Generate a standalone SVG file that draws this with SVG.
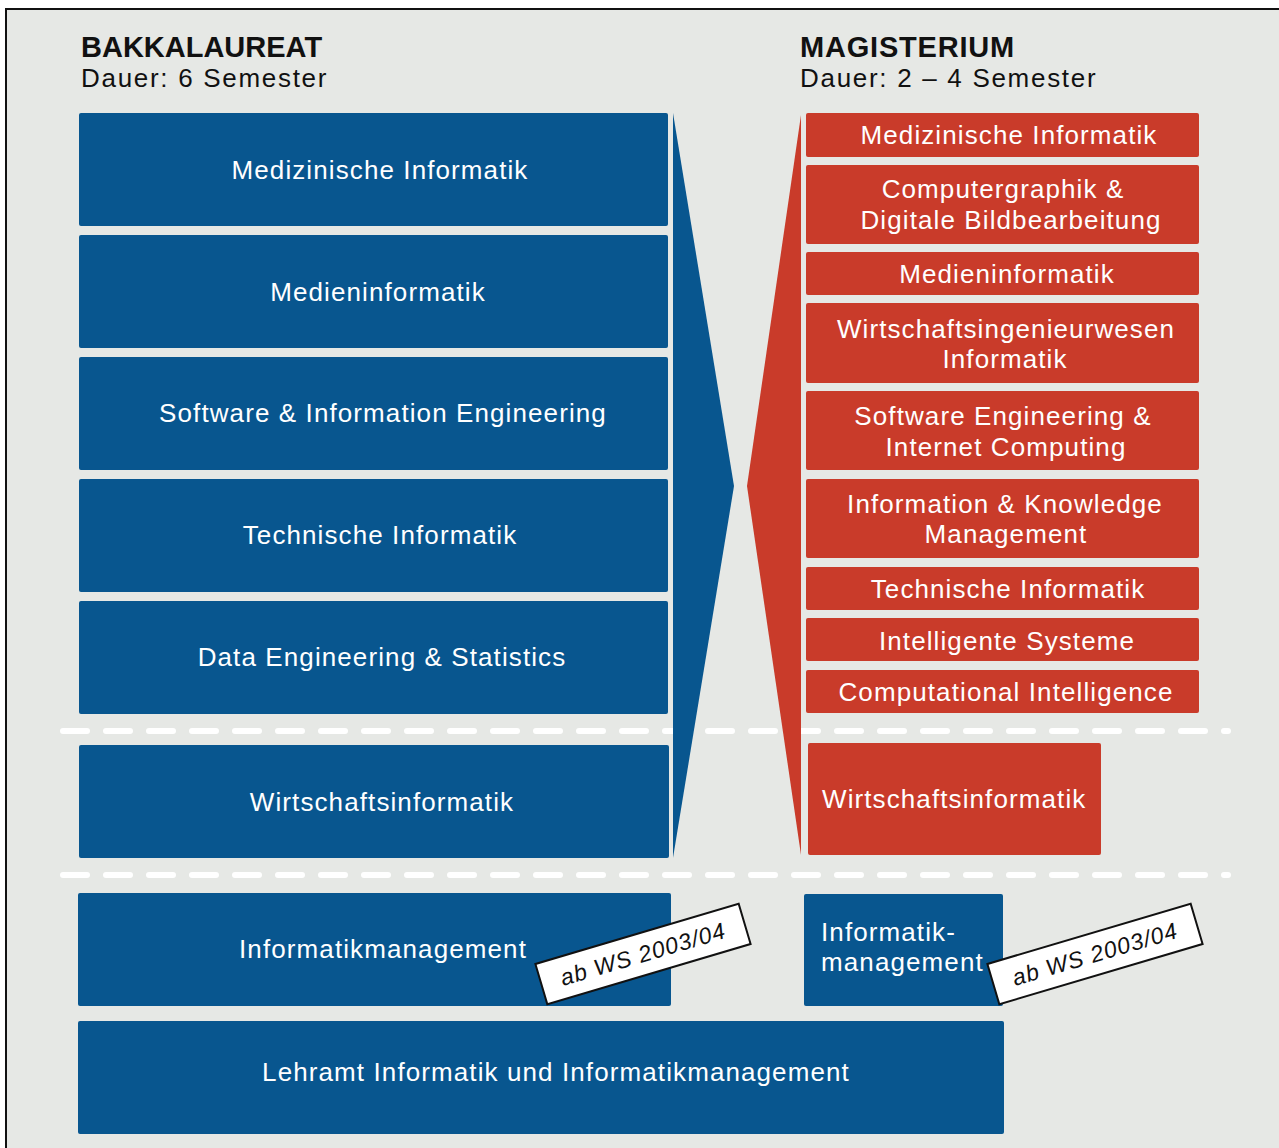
<svg xmlns="http://www.w3.org/2000/svg" width="1279" height="1148" viewBox="0 0 1279 1148">
<style>
.b{fill:#08568f}
.r{fill:#c93b2a}
.t{font-family:"Liberation Sans",Arial,sans-serif;font-size:26px;letter-spacing:1.1px;fill:#fff;text-anchor:middle}
.tl{font-family:"Liberation Sans",Arial,sans-serif;font-size:26px;letter-spacing:1.1px;fill:#fff}
.h{font-family:"Liberation Sans",Arial,sans-serif;font-size:29px;font-weight:bold;fill:#111}
.s{font-family:"Liberation Sans",Arial,sans-serif;font-size:26px;letter-spacing:1.7px;fill:#111}
.tag{fill:#fff;stroke:#111;stroke-width:2}
.tt{font-family:"Liberation Sans",Arial,sans-serif;font-size:23px;font-style:italic;letter-spacing:1px;fill:#111;text-anchor:middle}
.d{stroke:#fff;stroke-width:6;stroke-linecap:round;stroke-dasharray:24 19;fill:none}
</style>
<rect x="6" y="9" width="1300" height="1170" fill="#e6e8e5" stroke="#111" stroke-width="2"/>
<text class="h" x="81" y="57">BAKKALAUREAT</text>
<text class="s" x="81" y="87">Dauer: 6 Semester</text>
<text class="h" x="800" y="57" style="letter-spacing:0.8px">MAGISTERIUM</text>
<text class="s" x="800" y="87">Dauer: 2 – 4 Semester</text>

<g id="connectors">
<line class="d" x1="63" y1="731" x2="1228" y2="731"/>
<line class="d" x1="63" y1="875" x2="1228" y2="875"/>
<polygon class="b" points="673,113 734,486 673,858"/>
<polygon class="r" points="801,115 747,486 801,855"/>
</g>

<g id="b1"><rect class="b" x="79" y="113" width="589" height="113" rx="2"/><text class="t" x="380" y="179">Medizinische Informatik</text></g>
<g id="b2"><rect class="b" x="79" y="235" width="589" height="113" rx="2"/><text class="t" x="378" y="301">Medieninformatik</text></g>
<g id="b3"><rect class="b" x="79" y="357" width="589" height="113" rx="2"/><text class="t" x="383" y="422">Software &amp; Information Engineering</text></g>
<g id="b4"><rect class="b" x="79" y="479" width="589" height="113" rx="2"/><text class="t" x="380" y="544">Technische Informatik</text></g>
<g id="b5"><rect class="b" x="79" y="601" width="589" height="113" rx="2"/><text class="t" x="382" y="666">Data Engineering &amp; Statistics</text></g>
<g id="b6"><rect class="b" x="79" y="745" width="590" height="113" rx="2"/><text class="t" x="382" y="811">Wirtschaftsinformatik</text></g>
<g id="b7"><rect class="b" x="78" y="893" width="593" height="113" rx="2"/><text class="t" x="383" y="958">Informatikmanagement</text></g>
<g id="b8"><rect class="b" x="78" y="1021" width="926" height="113" rx="2"/><text class="t" x="556" y="1081">Lehramt Informatik und Informatikmanagement</text></g>

<g id="m1"><rect class="r" x="806" y="113" width="393" height="44" rx="2"/><text class="t" x="1009" y="144">Medizinische Informatik</text></g>
<g id="m2"><rect class="r" x="806" y="165" width="393" height="79" rx="2"/><text class="t" x="1003" y="198">Computergraphik &amp;</text><text class="t" x="1011" y="229">Digitale Bildbearbeitung</text></g>
<g id="m3"><rect class="r" x="806" y="252" width="393" height="43" rx="2"/><text class="t" x="1007" y="283">Medieninformatik</text></g>
<g id="m4"><rect class="r" x="806" y="303" width="393" height="80" rx="2"/><text class="t" x="1006" y="338">Wirtschaftsingenieurwesen</text><text class="t" x="1005" y="368">Informatik</text></g>
<g id="m5"><rect class="r" x="806" y="391" width="393" height="79" rx="2"/><text class="t" x="1003" y="425">Software Engineering &amp;</text><text class="t" x="1006" y="456">Internet Computing</text></g>
<g id="m6"><rect class="r" x="806" y="479" width="393" height="79" rx="2"/><text class="t" x="1005" y="513">Information &amp; Knowledge</text><text class="t" x="1006" y="543">Management</text></g>
<g id="m7"><rect class="r" x="806" y="567" width="393" height="43" rx="2"/><text class="t" x="1008" y="598">Technische Informatik</text></g>
<g id="m8"><rect class="r" x="806" y="618" width="393" height="43" rx="2"/><text class="t" x="1007" y="650">Intelligente Systeme</text></g>
<g id="m9"><rect class="r" x="806" y="670" width="393" height="43" rx="2"/><text class="t" x="1006" y="701">Computational Intelligence</text></g>
<g id="m10"><rect class="r" x="808" y="743" width="293" height="112" rx="2"/><text class="tl" x="822" y="808">Wirtschaftsinformatik</text></g>
<g id="m11"><rect class="b" x="804" y="894" width="199" height="112" rx="2"/><text class="tl" x="821" y="941">Informatik-</text><text class="tl" x="821" y="971">management</text></g>

<g id="tag1" transform="translate(643,954) rotate(-16.5)"><rect class="tag" x="-106" y="-21" width="212" height="42"/><text class="tt" x="0" y="8">ab WS 2003/04</text></g>
<g id="tag2" transform="translate(1095,954) rotate(-16.5)"><rect class="tag" x="-106" y="-21" width="212" height="42"/><text class="tt" x="0" y="8">ab WS 2003/04</text></g>
</svg>
